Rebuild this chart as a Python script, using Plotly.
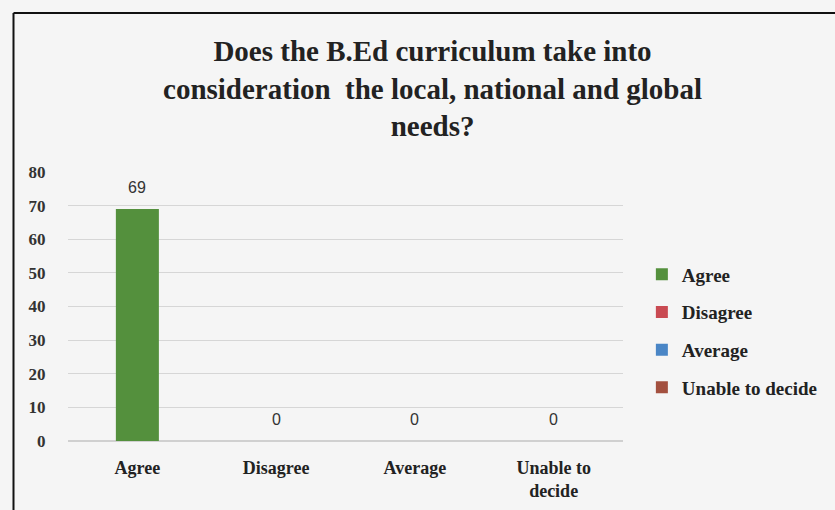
import plotly.graph_objects as go

categories = ["Agree", "Disagree", "Average", "Unable to decide"]
tick_labels = ["Agree", "Disagree", "Average", "Unable to<br>decide"]
values = [69, 0, 0, 0]
colors = ["#54903d", "#c94a52", "#4a86c6", "#a3503f"]
title_text = "Does the B.Ed curriculum take into<br>consideration  the local, national and global<br>needs?"

serif = "Liberation Serif, Times New Roman, serif"

fig = go.Figure()
for i, (cat, val, col) in enumerate(zip(categories, values, colors)):
    fig.add_trace(go.Bar(
        x=[cat], y=[val], name=cat, marker=dict(color=col, line=dict(width=0)),
        width=0.31, legendgroup=cat,
    ))
    fig.add_annotation(
        x=cat, y=val, text=str(val), showarrow=False, yanchor="bottom", yshift=11,
        font=dict(family="Liberation Sans, Arial, sans-serif", size=16, color="#333333"),
    )

fig.update_layout(
    width=835, height=510,
    margin=dict(l=68, r=207, t=172, b=69),
    paper_bgcolor="#f5f5f5", plot_bgcolor="#f5f5f5",
    barmode="overlay",
    title=dict(text=title_text, x=0.518, xref="container", xanchor="center",
               y=1 - 61 / 510, yref="container", yanchor="top",
               font=dict(family=serif, size=29, color="#222222", weight="bold")),
    legend=dict(x=1.034, y=0.69, xanchor="left", yanchor="top",
                font=dict(family=serif, size=19, color="#222222", weight="bold"),
                tracegroupgap=10, bgcolor="rgba(0,0,0,0)", itemwidth=30),
    xaxis=dict(categoryorder="array", categoryarray=categories,
               tickvals=categories, ticktext=tick_labels,
               tickfont=dict(family=serif, size=18, color="#222222", weight="bold"),
               ticks="outside", ticklen=10, tickcolor="rgba(0,0,0,0)",
               showline=False, showgrid=False, range=[-0.5, 3.5], automargin=False),
    yaxis=dict(range=[0, 80], dtick=10,
               tickfont=dict(family=serif, size=17, color="#333333", weight="bold"),
               ticks="outside", ticklen=18, tickcolor="rgba(0,0,0,0)",
               gridcolor="#d6d6d6", gridwidth=1, zeroline=True, zerolinecolor="#d0d0d0",
               showline=False, automargin=False),
    showlegend=True,
    shapes=[
        dict(type="line", xref="paper", yref="paper", x0=-0.0982, x1=1.4, y0=1.591, y1=1.591,
             line=dict(color="#111111", width=2)),
        dict(type="line", xref="paper", yref="paper", x0=-0.0982, x1=-0.0982, y0=1.591, y1=-0.3,
             line=dict(color="#111111", width=2)),
    ],
)

fig.write_html("out.html")
